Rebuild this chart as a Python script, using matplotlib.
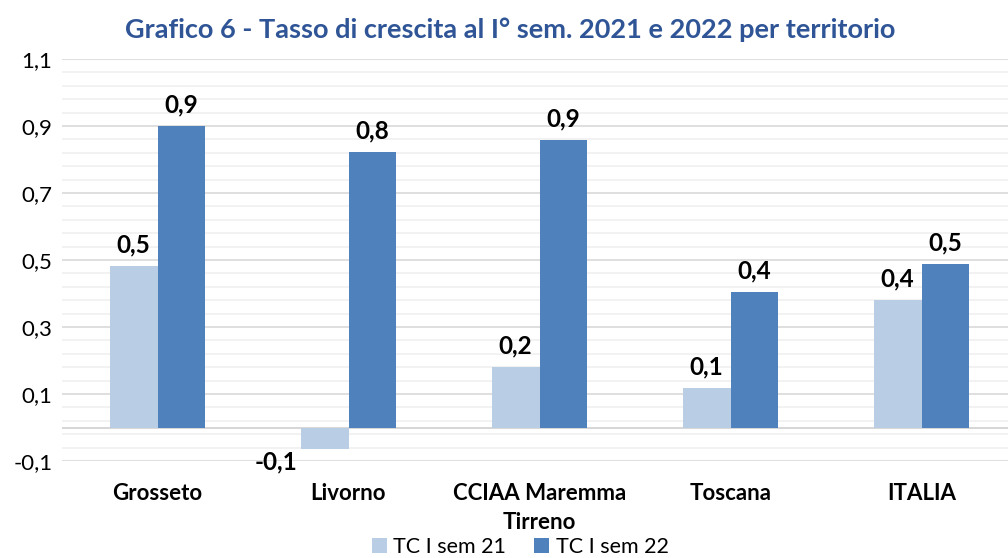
import matplotlib.pyplot as plt
import numpy as np

territori = ["Grosseto", "Livorno", "CCIAA Maremma\nTirreno", "Toscana", "ITALIA"]
tc_21 = [0.482, -0.064, 0.18, 0.118, 0.381]
tc_22 = [0.90, 0.822, 0.858, 0.404, 0.488]
serie = ["TC I sem 21", "TC I sem 22"]
yticks = [-0.1, 0.1, 0.3, 0.5, 0.7, 0.9, 1.1]

plt.rcParams['font.family'] = ['Lato', 'DejaVu Sans']

fig = plt.figure(figsize=(10.08, 5.58), dpi=100)
ax = fig.add_axes([62 / 1008, 97 / 558, 955 / 1008, 402 / 558])

x = np.arange(len(territori))
w = 0.25
b1 = ax.bar(x - w / 2, tc_21, w, color="#B9CDE5", label=serie[0], zorder=3)
b2 = ax.bar(x + w / 2, tc_22, w, color="#4F81BD", label=serie[1], zorder=3)

for bars, vals in [(b1, tc_21), (b2, tc_22)]:
    for r, v in zip(bars, vals):
        txt = f"{v:.1f}".replace(".", ",")
        if v >= 0:
            ax.annotate(txt, (r.get_x() + r.get_width() / 2, v), xytext=(0, 7),
                        textcoords="offset points", ha="center", va="bottom",
                        fontsize=17.5, fontweight="bold")
        else:
            ax.annotate(txt, (r.get_x() - 0.02, v), xytext=(0, -1),
                        textcoords="offset points", ha="right", va="top",
                        fontsize=17.5, fontweight="bold")

ax.set_ylim(-0.1, 1.1)
ax.set_xlim(-0.5, len(territori) - 0.5)
ax.set_yticks(yticks)
ax.set_yticklabels([f"{t:.1f}".replace(".", ",") for t in yticks], fontsize=16)
ax.set_yticks(np.arange(-0.1, 1.1, 0.04), minor=True)
ax.grid(axis="y", which="major", color="#D9D9D9", linewidth=1.2, zorder=0)
ax.grid(axis="y", which="minor", color="#F0F0F0", linewidth=1.2, zorder=0)
ax.axhline(0, color="#D0D0D0", linewidth=1.2, zorder=1)
ax.set_xticks(x)
ax.set_xticklabels(territori, fontsize=16, fontweight="bold", linespacing=1.45)
ax.tick_params(axis="both", which="both", length=0)
ax.tick_params(axis="x", pad=16)
ax.tick_params(axis="y", pad=7)
for s in ax.spines.values():
    s.set_visible(False)

fig.suptitle("Grafico 6 - Tasso di crescita al I° sem. 2021 e 2022 per territorio",
             x=510 / 1008, y=1 - 30 / 558, va="center", fontsize=19.5,
             fontweight="bold", color="#2F5597")

fig.legend(loc="center", bbox_to_anchor=(520 / 1008, 1 - 547 / 558), ncol=2,
           frameon=False, fontsize=15.5, handlelength=0.7, handleheight=0.7,
           handletextpad=0.3, columnspacing=1.3, borderpad=0)

fig.savefig("out.png", dpi=100)
